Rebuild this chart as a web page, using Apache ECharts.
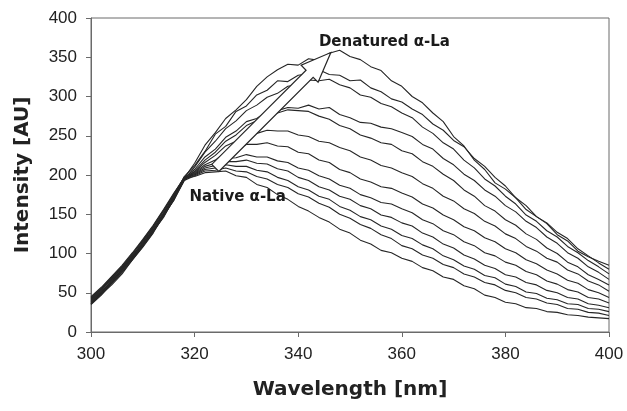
<!DOCTYPE html>
<html>
<head>
<meta charset="utf-8">
<script src="https://cdn.jsdelivr.net/npm/echarts@6/dist/echarts.min.js"></script>
<style>
  html, body { margin: 0; background: #fff; }
  #chart { width: 627px; height: 411px; }
</style>
</head>
<body>
<div id="chart"></div>
<script>
// wavelength grid [nm]
const wavelengths = [
  300, 302, 304, 306, 308, 310, 312, 314, 316, 318,
  320, 322, 324, 326, 328, 330, 332, 334, 336, 338,
  340, 342, 344, 346, 348, 350, 352, 354, 356, 358,
  360, 362, 364, 366, 368, 370, 372, 374, 376, 378,
  380, 382, 384, 386, 388, 390, 392, 394, 396, 398, 400
];

// emission spectra, from denatured (top) to native (bottom)
const spectrumA = [36, 48, 60, 74, 92, 108, 126, 148, 168, 196, 215, 238, 254, 272, 283, 296, 313, 325, 334, 341, 340, 348, 346, 355, 359, 351, 347, 338, 333, 320, 313, 300, 292, 279, 268, 249, 237, 219, 207, 190, 182, 171, 156, 147, 138, 124, 116, 103, 96, 90, 85];
const spectrumB = [40, 52, 64, 80, 96, 114, 130, 150, 172, 198, 212, 230, 252, 262, 281, 288, 302, 308, 320, 319, 327, 329, 334, 328, 327, 320, 321, 311, 306, 297, 293, 284, 277, 265, 257, 244, 236, 221, 211, 197, 186, 171, 161, 147, 139, 127, 119, 106, 97, 88, 80];
const spectrumC = [38, 50, 66, 78, 94, 110, 128, 146, 170, 194, 210, 229, 243, 259, 269, 282, 289, 299, 304, 313, 315, 321, 320, 322, 315, 311, 302, 299, 291, 287, 279, 273, 261, 253, 241, 233, 219, 209, 195, 186, 173, 163, 149, 141, 129, 121, 109, 101, 91, 83, 74];
const spectrumD = [42, 54, 68, 82, 98, 112, 132, 152, 174, 196, 207, 223, 233, 248, 256, 268, 272, 281, 282, 286, 285, 289, 284, 286, 277, 273, 267, 266, 261, 259, 254, 249, 239, 233, 221, 213, 201, 193, 181, 173, 161, 153, 141, 133, 121, 113, 101, 94, 83, 76, 67];
const spectrumE = [35, 47, 62, 76, 92, 109, 127, 149, 168, 193, 205, 219, 229, 243, 251, 263, 269, 277, 279, 283, 282, 281, 275, 271, 263, 259, 251, 247, 241, 239, 231, 227, 217, 211, 201, 193, 181, 173, 161, 154, 143, 136, 125, 118, 107, 100, 89, 83, 73, 67, 60];
const spectrumF = [44, 56, 70, 84, 100, 116, 134, 154, 176, 197, 204, 216, 225, 237, 243, 251, 253, 257, 256, 256, 251, 249, 243, 241, 235, 231, 223, 219, 212, 209, 203, 198, 189, 183, 173, 167, 157, 151, 141, 135, 125, 119, 109, 103, 94, 89, 79, 74, 65, 60, 52];
const spectrumG = [37, 50, 63, 79, 95, 111, 129, 150, 171, 195, 203, 213, 219, 229, 233, 239, 239, 241, 237, 236, 229, 227, 219, 216, 207, 203, 195, 191, 185, 183, 177, 172, 163, 158, 149, 143, 134, 129, 120, 115, 106, 101, 92, 87, 79, 74, 66, 62, 54, 50, 44];
const spectrumH = [41, 53, 67, 81, 97, 115, 133, 151, 173, 196, 202, 211, 215, 221, 222, 226, 223, 223, 218, 216, 209, 206, 199, 195, 187, 183, 175, 171, 165, 163, 157, 152, 143, 138, 129, 124, 115, 110, 101, 97, 89, 85, 77, 73, 65, 61, 54, 51, 44, 42, 37];
const spectrumI = [39, 51, 64, 80, 94, 113, 130, 148, 170, 194, 201, 209, 212, 217, 217, 219, 215, 214, 208, 205, 197, 193, 185, 181, 173, 169, 161, 157, 149, 146, 139, 135, 126, 121, 112, 107, 98, 93, 85, 81, 73, 70, 63, 60, 53, 50, 44, 42, 36, 34, 31];
const spectrumJ = [43, 55, 69, 83, 99, 117, 135, 155, 175, 197, 200, 207, 209, 213, 211, 211, 206, 204, 197, 193, 185, 181, 173, 169, 160, 155, 147, 143, 135, 131, 123, 119, 111, 106, 97, 92, 84, 80, 72, 69, 61, 58, 51, 49, 43, 41, 36, 35, 30, 29, 26];
const spectrumK = [36, 49, 62, 77, 93, 110, 128, 147, 169, 193, 199, 205, 206, 209, 205, 204, 198, 195, 188, 184, 176, 172, 164, 159, 150, 145, 137, 132, 124, 119, 110, 106, 98, 94, 86, 82, 74, 70, 63, 60, 53, 50, 44, 42, 37, 35, 30, 29, 25, 24, 21];
const spectrumL = [45, 57, 71, 85, 101, 118, 136, 156, 177, 196, 198, 203, 204, 205, 199, 197, 188, 184, 175, 169, 160, 154, 146, 140, 131, 126, 117, 112, 104, 101, 94, 90, 82, 78, 70, 67, 59, 55, 47, 44, 38, 36, 31, 30, 26, 25, 22, 21, 19, 18, 17];

const spectra = [spectrumA, spectrumB, spectrumC, spectrumD, spectrumE, spectrumF,
  spectrumG, spectrumH, spectrumI, spectrumJ, spectrumK, spectrumL];

// annotation anchors in data units [nm, AU]
const arrowFrom = [324, 209];
const arrowTo = [346.3, 356];
const denaturedLabel = { text: 'Denatured α-La', at: [344, 369] };
const nativeLabel = { text: 'Native α-La', at: [319, 172] };

const axisGray = '#6a6a6a';
const inkColor = '#262626';
const labelFont = 'Liberation Sans';
const titleFont = 'DejaVu Sans';

const chart = echarts.init(document.getElementById('chart'));

chart.setOption({
  animation: false,
  grid: {
    left: 91, right: 18, top: 18, bottom: 79,
    show: true, borderColor: axisGray, borderWidth: 1
  },
  xAxis: {
    type: 'value',
    min: 300, max: 400, interval: 20,
    name: 'Wavelength [nm]',
    nameLocation: 'middle',
    nameGap: 48,
    nameTextStyle: { fontFamily: titleFont, fontWeight: 'bold', fontSize: 20, color: '#222' },
    axisLine: { lineStyle: { color: axisGray } },
    axisTick: { show: true, inside: false, length: 5, lineStyle: { color: axisGray } },
    axisLabel: { fontFamily: labelFont, fontSize: 17, color: '#222', margin: 14 },
    splitLine: { show: false }
  },
  yAxis: {
    type: 'value',
    min: 0, max: 400, interval: 50,
    name: 'Intensity [AU]',
    nameLocation: 'middle',
    nameGap: 58,
    nameTextStyle: { fontFamily: titleFont, fontWeight: 'bold', fontSize: 20, color: '#222' },
    axisLine: { show: true, lineStyle: { color: axisGray } },
    axisTick: { show: true, inside: false, length: 5, lineStyle: { color: axisGray } },
    axisLabel: { fontFamily: labelFont, fontSize: 17, color: '#222', margin: 14 },
    splitLine: { show: false }
  },
  series: spectra.map((s, i) => ({
    name: 'spectrum' + i,
    type: 'line',
    data: wavelengths.map((w, j) => [w, s[j]]),
    showSymbol: false,
    lineStyle: { color: inkColor, width: 1.1 },
    z: 2
  }))
});

// hollow block arrow + labels, placed from data coords
function toPx(p) {
  return chart.convertToPixel({ gridIndex: 0 }, p);
}

function arrowShape(from, to) {
  const p0 = toPx(from), p1 = toPx(to);
  const dx = p1[0] - p0[0], dy = p1[1] - p0[1];
  const len = Math.sqrt(dx * dx + dy * dy);
  const ux = dx / len, uy = dy / len;
  const nx = -uy, ny = ux;
  const shaft = 5, head = 12, headLen = 30;
  const bx = p1[0] - ux * headLen, by = p1[1] - uy * headLen;
  return [
    [p0[0] + nx * shaft, p0[1] + ny * shaft],
    [bx + nx * shaft, by + ny * shaft],
    [bx + nx * head, by + ny * head],
    [p1[0], p1[1]],
    [bx - nx * head, by - ny * head],
    [bx - nx * shaft, by - ny * shaft],
    [p0[0] - nx * shaft, p0[1] - ny * shaft]
  ];
}

function labelGraphic(lbl) {
  const p = toPx(lbl.at);
  return {
    type: 'text',
    x: p[0], y: p[1], z: 120,
    style: {
      text: lbl.text,
      fontFamily: titleFont, fontWeight: 'bold', fontSize: 15,
      fill: '#1a1a1a', align: 'left', verticalAlign: 'middle'
    }
  };
}

chart.setOption({
  graphic: [
    {
      type: 'polygon', z: 110,
      shape: { points: arrowShape(arrowFrom, arrowTo) },
      style: { fill: '#fff', stroke: inkColor, lineWidth: 1.2 }
    },
    labelGraphic(denaturedLabel),
    labelGraphic(nativeLabel)
  ]
});
</script>
</body>
</html>
